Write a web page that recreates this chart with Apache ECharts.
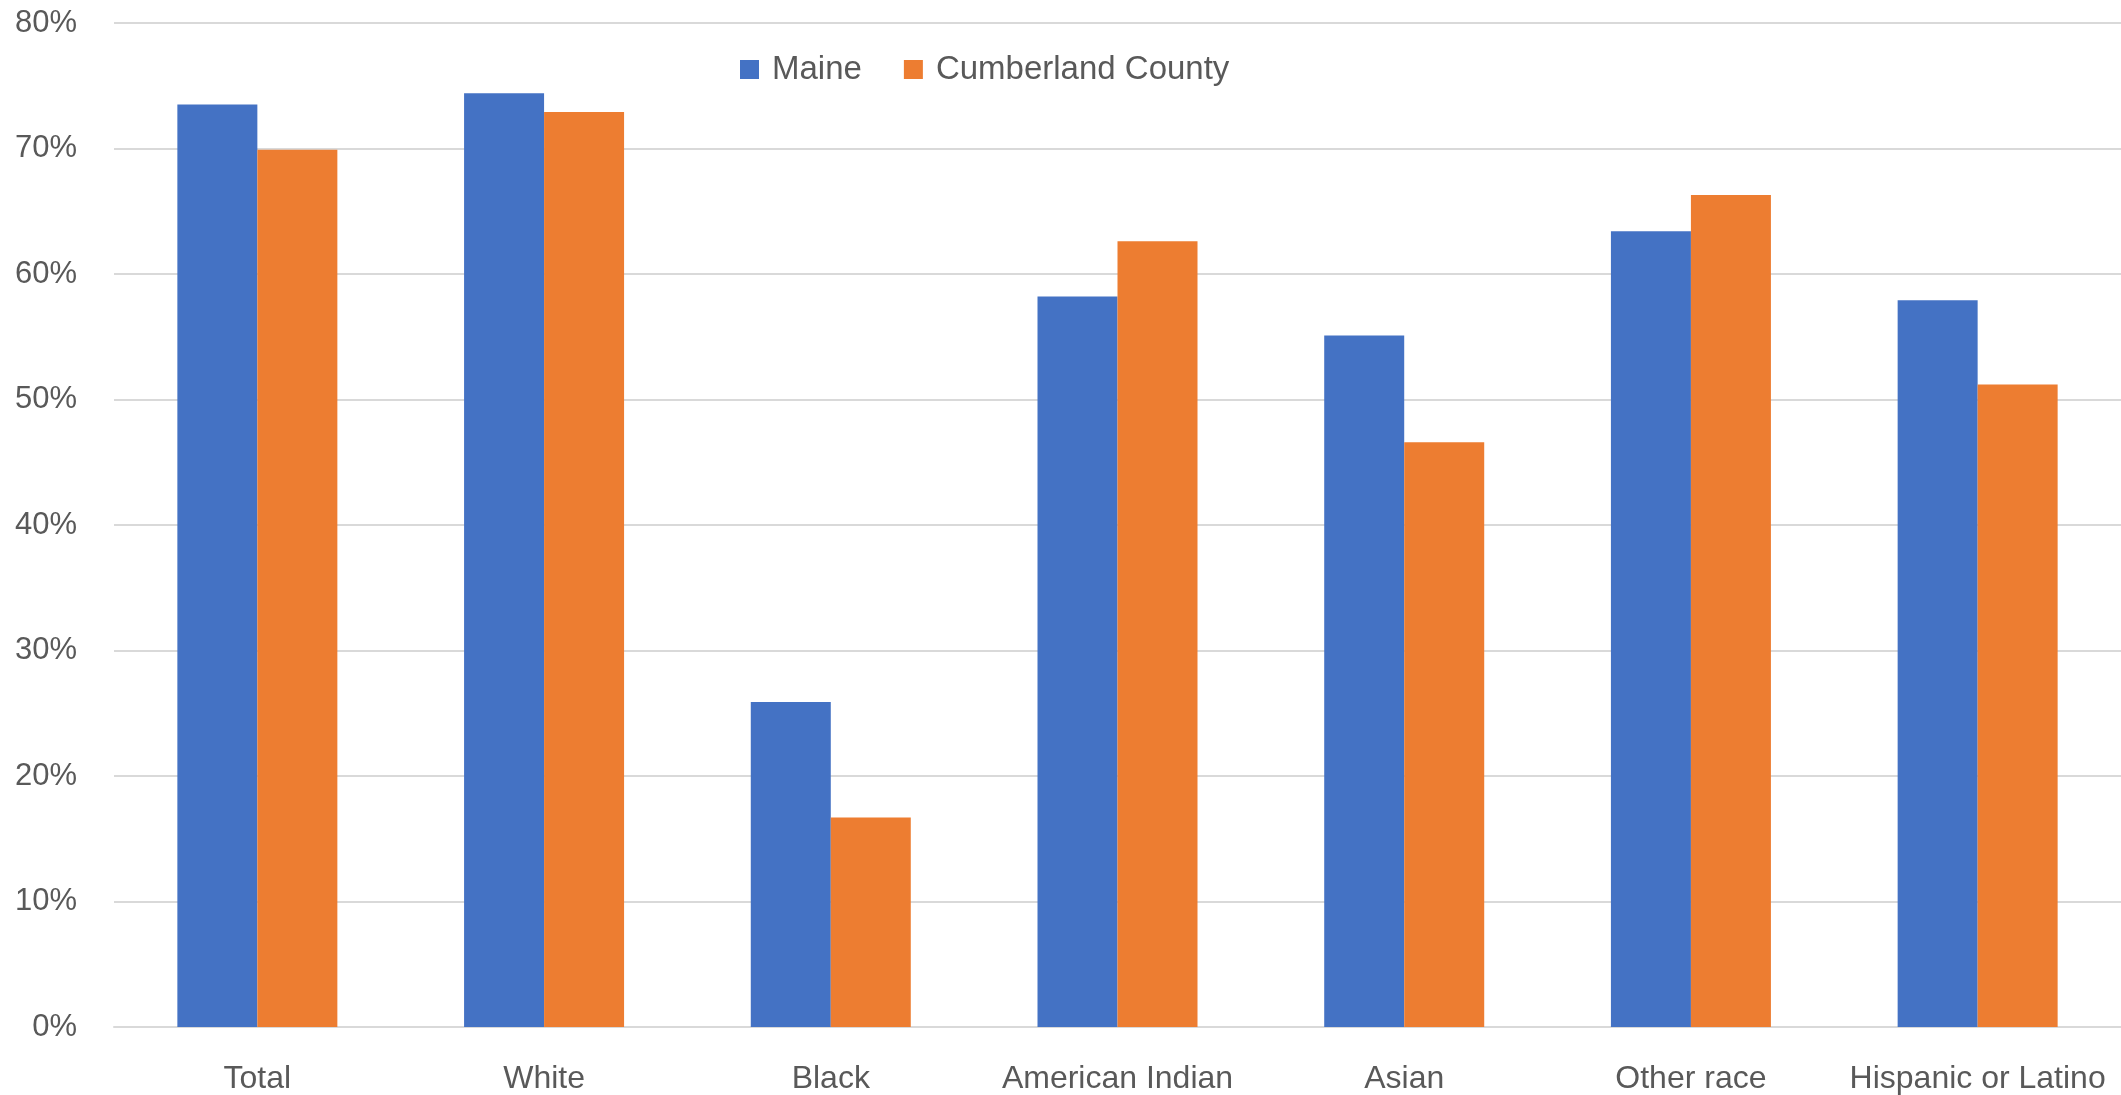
<!DOCTYPE html>
<html>
<head>
<meta charset="utf-8">
<script src="https://cdn.jsdelivr.net/npm/echarts@6/dist/echarts.min.js"></script>
<style>
html,body{margin:0;padding:0;background:#fff;}
#chart{width:2121px;height:1095px;}
</style>
</head>
<body>
<div id="chart"></div>
<script>
const categories = ['Total', 'White', 'Black', 'American Indian', 'Asian', 'Other race', 'Hispanic or Latino'];
const maine = [73.5, 74.4, 25.9, 58.2, 55.1, 63.4, 57.9];
const cumberland = [69.9, 72.9, 16.7, 62.6, 46.6, 66.3, 51.2];
const seriesNames = ['Maine', 'Cumberland County'];
const yTicks = [0, 10, 20, 30, 40, 50, 60, 70, 80];

const FONT = '"Liberation Sans", Arial, sans-serif';
const chart = echarts.init(document.getElementById('chart'), null, {renderer: 'canvas'});
chart.setOption({
  animation: false,
  backgroundColor: '#ffffff',
  legend: {
    left: 735,
    top: 48,
    itemWidth: 19,
    itemHeight: 19,
    itemGap: 42,
    icon: 'rect',
    textStyle: {fontFamily: FONT, fontSize: 33, color: '#595959', padding: [0, 0, 0, 8]},
    data: seriesNames
  },
  grid: {left: 114, right: 0, top: 23, bottom: 66, containLabel: false},
  xAxis: {
    type: 'category',
    data: categories,
    axisLine: {show: true, lineStyle: {color: '#d9d9d9', width: 2}},
    axisTick: {show: false},
    axisLabel: {fontFamily: FONT, fontSize: 32, color: '#595959', margin: 36, interval: 0}
  },
  yAxis: {
    type: 'value',
    min: yTicks[0],
    max: yTicks[yTicks.length - 1],
    interval: 10,
    axisLine: {show: false},
    axisTick: {show: false},
    splitLine: {lineStyle: {color: '#d9d9d9', width: 2}},
    axisLabel: {fontFamily: FONT, fontSize: 31, color: '#595959', margin: 37, formatter: '{value}%'}
  },
  series: [
    {name: seriesNames[0], type: 'bar', data: maine, barWidth: 80, barGap: '0%', itemStyle: {color: '#4472C4'}},
    {name: seriesNames[1], type: 'bar', data: cumberland, barWidth: 80, barGap: '0%', itemStyle: {color: '#ED7D31'}}
  ]
});
</script>
</body>
</html>
